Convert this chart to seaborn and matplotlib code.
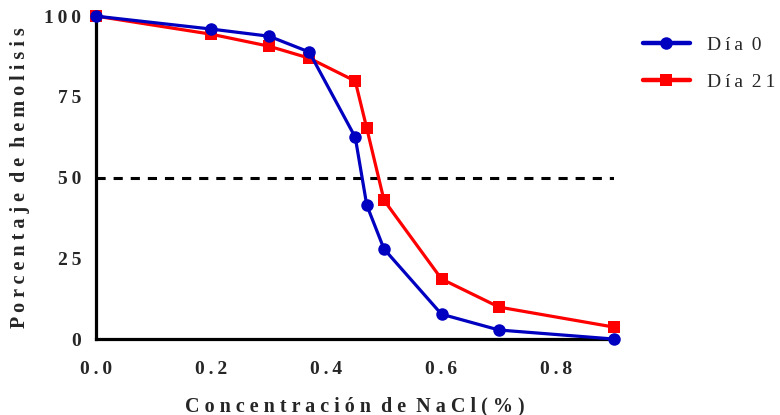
import matplotlib
matplotlib.use("Agg")
import matplotlib.pyplot as plt
import seaborn as sns
import pandas as pd

conc = [0.0, 0.2, 0.3, 0.37, 0.45, 0.47, 0.5, 0.6, 0.7, 0.9]
dia0 = [100, 96.0, 93.8, 88.9, 62.5, 41.5, 27.9, 7.7, 2.8, 0.0]
dia21 = [100, 94.4, 90.7, 87.0, 79.9, 65.3, 43.0, 18.6, 9.9, 3.7]
series_names = ["D\u2009í\u2009a\u2009 0", "D\u2009í\u2009a\u2009 2\u20091"]
xticks = [0.0, 0.2, 0.4, 0.6, 0.8]
yticks = [0, 25, 50, 75, 100]
threshold = 50

sns.set_theme(style="white")
plt.rcParams['font.family'] = ['Liberation Serif', 'DejaVu Serif']

def spaced(s):
    return "\u2009".join(list(s))

df = pd.DataFrame({
    "x": conc * 2,
    "y": dia0 + dia21,
    "serie": [series_names[0]] * len(conc) + [series_names[1]] * len(conc),
})

fig = plt.figure(figsize=(7.8, 4.15), dpi=100)
ax = fig.add_axes([0.1237, 0.183, 0.6635, 0.778])

colors = {series_names[0]: "#0000C0", series_names[1]: "#FF0000"}
markers = {series_names[0]: "o", series_names[1]: "s"}
for name in series_names:
    sub = df[df["serie"] == name]
    sns.lineplot(data=sub, x="x", y="y", ax=ax, color=colors[name], marker=markers[name],
                 markersize=9 if markers[name] == "o" else 8.5, markeredgewidth=0,
                 linewidth=2.3, label=name, clip_on=False, zorder=3 if name == series_names[0] else 2)

ax.plot([0, 0.9], [threshold, threshold], color="black", linestyle=(0, (3, 2.6)), linewidth=2.2, zorder=1)

ax.set_xlim(0, 0.9)
ax.set_ylim(0, 100)
ax.set_xticks(xticks)
ax.set_yticks(yticks)
ax.set_xticklabels([spaced(f"{t:.1f}") for t in xticks], fontsize=14, fontweight="bold")
ax.set_yticklabels([spaced(str(t)) for t in yticks], fontsize=14, fontweight="bold")
for s in ["top", "right"]:
    ax.spines[s].set_visible(False)
for s in ["left", "bottom"]:
    ax.spines[s].set_linewidth(2.3)
    ax.spines[s].set_color("black")
ax.tick_params(axis="both", direction="out", length=6, width=2.3, color="black", pad=5)
ax.tick_params(axis="x", pad=10)

ax.set_xlabel("C o n c e n t r a c i ó n  d e  N a C l ( % )", fontsize=14.5, fontweight="bold", labelpad=13)
ax.set_ylabel("P o r c e n t a j e  d e  h e m o l i s i s", fontsize=14.5, fontweight="bold", labelpad=10)

leg = ax.legend(loc="upper left", bbox_to_anchor=(1.03, 0.98), frameon=False, fontsize=14,
                handlelength=2.4, labelspacing=1.0, handletextpad=0.9, borderaxespad=0.3)
for h in leg.get_lines():
    h.set_linewidth(3.2)

fig.savefig("out.png", dpi=100)
